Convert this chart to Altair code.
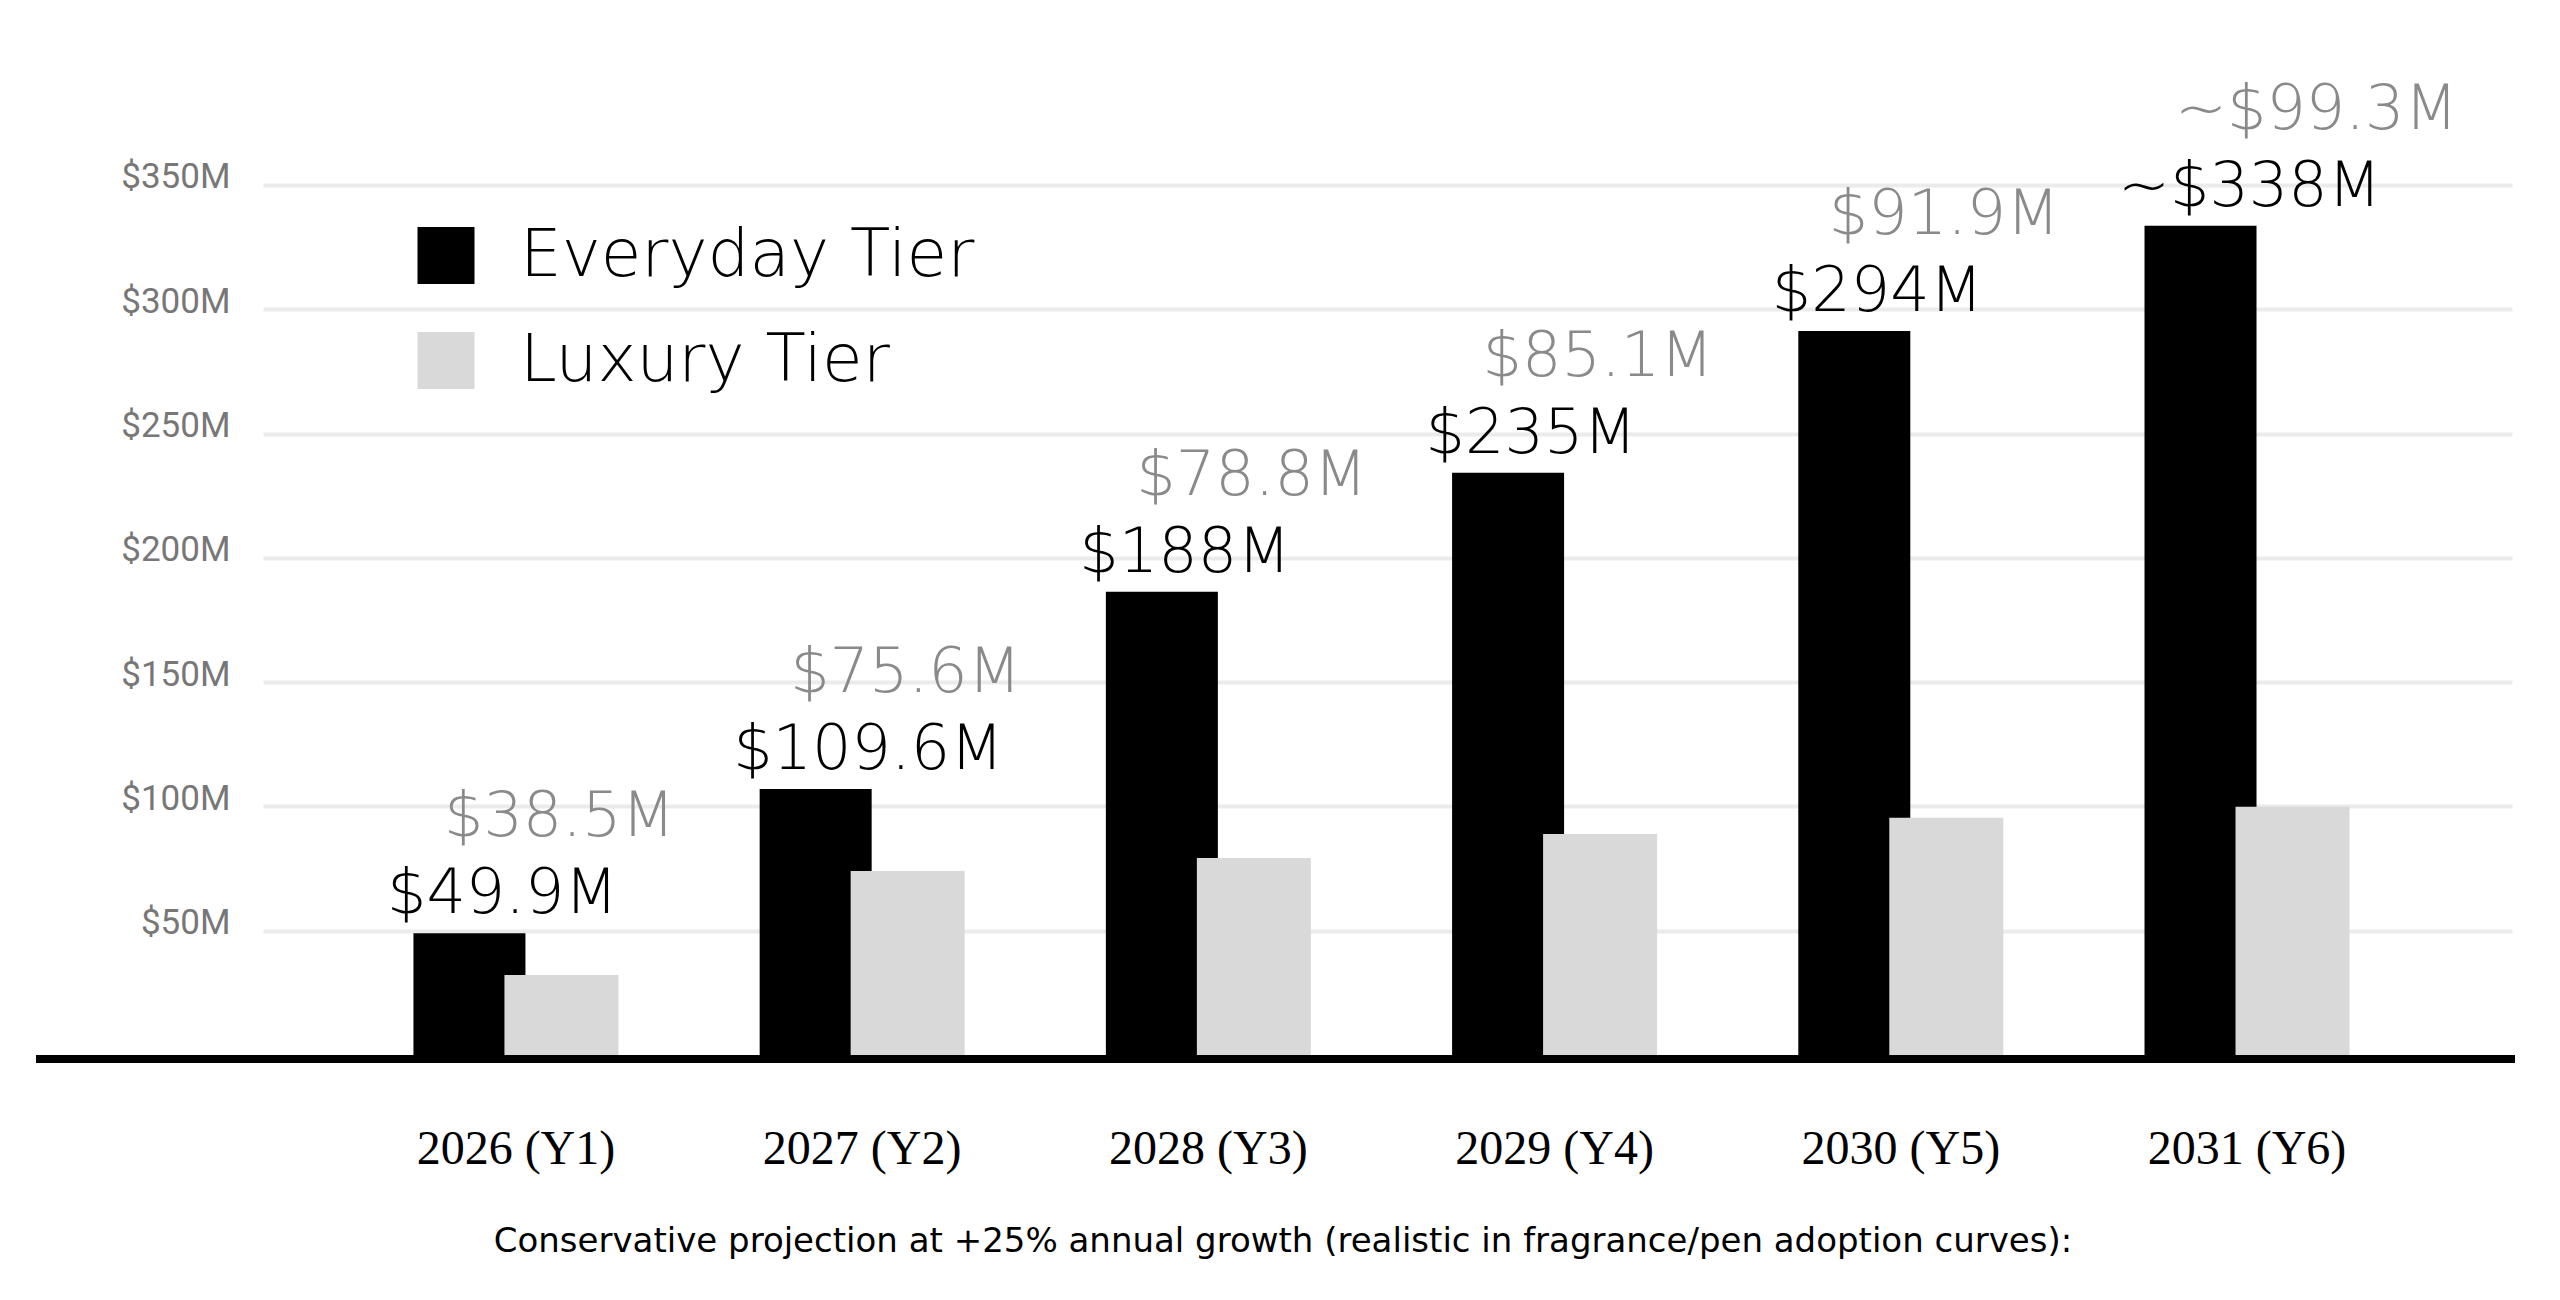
import altair as alt
import pandas as pd

# ---- data ----
years = ["2026 (Y1)", "2027 (Y2)", "2028 (Y3)", "2029 (Y4)", "2030 (Y5)", "2031 (Y6)"]
everyday = [49.0, 107.0, 186.4, 234.2, 291.2, 333.6]
luxury = [32.2, 74.0, 79.2, 88.9, 95.4, 99.9]
everyday_labels = ["$49.9M", "$109.6M", "$188M", "$235M", "$294M", "~$338M"]
luxury_labels = ["$38.5M", "$75.6M", "$78.8M", "$85.1M", "$91.9M", "~$99.3M"]
series = ["Everyday Tier", "Luxury Tier"]
colors = ["#000000", "#d9d9d9"]
y_ticks = [50, 100, 150, 200, 250, 300, 350]
caption = "Conservative projection at +25% annual growth (realistic in fragrance/pen adoption curves):"

df = pd.DataFrame({
    "year": years,
    "everyday": everyday,
    "luxury": luxury,
    "e_label": everyday_labels,
    "l_label": luxury_labels,
    "e_series": series[0],
    "l_series": series[1],
})

W, H = 2249, 1015
YMAX = 408.3
VALUE_FONT = "DejaVu Sans"

x_axis = alt.Axis(title=None, labelAngle=0, ticks=False, tickSize=0, domain=False,
                  grid=False, labelFont="Liberation Serif", labelFontSize=48,
                  labelColor="#000000", labelPadding=70, labelLimit=0)
x_enc = alt.X("year:N", sort=years,
              scale=alt.Scale(paddingInner=0.2, paddingOuter=0.348, align=0.475),
              axis=x_axis)

y_scale = alt.Scale(domain=[0, YMAX], nice=False, zero=True)
y_axis = alt.Axis(values=y_ticks, title=None, labelExpr="'$' + datum.value + 'M'",
                  grid=True, gridColor="#ebebeb", gridWidth=4, domain=False,
                  ticks=False, tickSize=0, labelFont="Roboto", labelFontSize=35,
                  labelColor="#777777", labelPadding=33, labelBaseline="alphabetic",
                  labelOffset=3)

color_scale = alt.Scale(domain=series, range=colors)
legend = alt.Legend(orient="none", legendX=150, legendY=182.5, title=None,
                    symbolType="square", symbolSize=3249, symbolStrokeWidth=0,
                    labelFont=VALUE_FONT, labelFontSize=66, labelFontWeight=200,
                    labelColor="#000000", labelOffset=41, rowPadding=39,
                    padding=0, labelLimit=0)

base = alt.Chart(df)

bars_e = base.mark_bar(width=112, xOffset=-46.5).encode(
    x=x_enc,
    y=alt.Y("everyday:Q", scale=y_scale, axis=y_axis),
    color=alt.Color("e_series:N", scale=color_scale, legend=legend),
)
bars_l = base.mark_bar(width=114, xOffset=45.5).encode(
    x=x_enc,
    y=alt.Y("luxury:Q", scale=y_scale, axis=y_axis),
    color=alt.Color("l_series:N", scale=color_scale, legend=legend),
)

text_e = base.mark_text(align="left", baseline="alphabetic", dx=-129, dy=-20,
                        font=VALUE_FONT, fontSize=62, fontWeight=200,
                        color="#000000").encode(
    x=x_enc,
    y=alt.Y("everyday:Q", scale=y_scale, axis=y_axis),
    text="e_label:N",
)
text_l = base.mark_text(align="left", baseline="alphabetic", dx=-72, dy=-97,
                        font=VALUE_FONT, fontSize=62, fontWeight=200,
                        color="#8a8a8a").encode(
    x=x_enc,
    y=alt.Y("everyday:Q", scale=y_scale, axis=y_axis),
    text="l_label:N",
)

baseline_rule = alt.Chart(pd.DataFrame({"v": [0]})).mark_rule(
    color="#000000", strokeWidth=8, yOffset=4).encode(
    y=alt.Y("v:Q", scale=y_scale, axis=y_axis),
    x=alt.value(-227),
    x2=alt.value(W + 3),
)

caption_text = alt.Chart(pd.DataFrame({"t": [caption]})).mark_text(
    align="center", baseline="alphabetic", font="DejaVu Sans", fontSize=34,
    color="#000000").encode(
    x=alt.value(1020),
    y=alt.value(1212),
    text="t:N",
)

chart = alt.layer(bars_e, bars_l, text_e, text_l, baseline_rule, caption_text).properties(
    width=W, height=H,
    padding={"left": 24, "top": 32, "right": 5, "bottom": 5},
    background="white",
).configure_view(strokeWidth=0)

chart.save("out.html", embed_options={"renderer": "svg", "actions": False})
